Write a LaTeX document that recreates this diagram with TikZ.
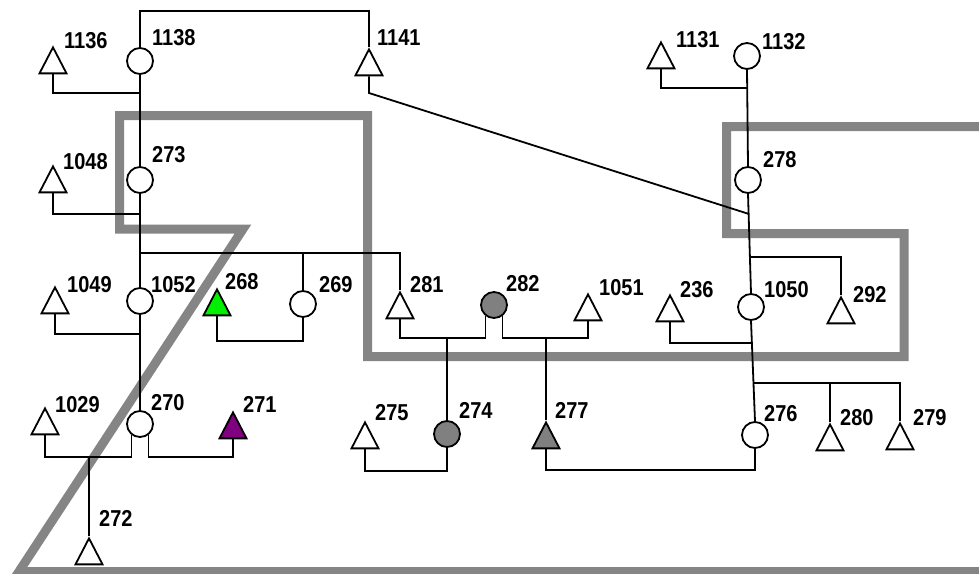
\documentclass[tikz,border=0pt]{standalone}
\usepackage{fontspec}
\setmainfont{Liberation Sans}
\newfontfamily\labfont[FakeStretch=0.87]{Liberation Sans}
\usetikzlibrary{shapes.geometric}
\definecolor{zonegray}{HTML}{858585}
\definecolor{fillgray}{HTML}{808080}
\definecolor{brightgreen}{HTML}{00F000}
\definecolor{deeppurple}{HTML}{800080}
\tikzset{
  wire/.style={draw=black, line width=1.8pt},
  zone/.style={draw=zonegray, line width=9pt, line join=miter},
  circ/.style={circle, draw=black, line width=1.8pt, fill=white, minimum size=26pt, inner sep=0pt},
  tri/.style={isosceles triangle, isosceles triangle stretches, shape border rotate=90,
    draw=black, line width=1.8pt, fill=white, minimum width=27pt, minimum height=26pt,
    inner sep=0pt, anchor=apex},
  lab/.style={anchor=base west, inner sep=0pt, font=\labfont\bfseries\fontsize{23}{26}\selectfont}
}
\begin{document}
\begin{tikzpicture}[x=1pt,y=-1pt]
\useasboundingbox[fill=white] (0,0) rectangle (979,573);
% zone boundary
\draw[zone] (985,126.5) -- (726.5,126.5) -- (726.5,233.5) -- (904,233.5) -- (904,356.5)
  -- (367.5,356.5) -- (367.5,115.5) -- (119.5,115.5) -- (119.5,229) -- (243,229)
  -- (19,571.5) -- (985,571.5);
% circles
\node[circ] (c1138) at (140,61) {};
\node[circ] (c273) at (140,180) {};
\node[circ] (c1052) at (140,301) {};
\node[circ] (c270) at (140,424) {};
\node[circ] (c269) at (303,304) {};
\node[circ, fill=fillgray] (c282) at (494,305) {};
\node[circ, fill=fillgray] (c274) at (447,434) {};
\node[circ] (c1132) at (747,56) {};
\node[circ] (c278) at (748,180) {};
\node[circ] (c1050) at (751,307) {};
\node[circ] (c276) at (755,435) {};
% triangles (placed by apex)
\node[tri] (t1136) at (53,45) {};
\node[tri] (t1141) at (369,47) {};
\node[tri] (t1048) at (53,164) {};
\node[tri] (t1049) at (55,285) {};
\node[tri, fill=brightgreen] (t268) at (217,287) {};
\node[tri] (t281) at (400,290) {};
\node[tri] (t1051) at (588,292) {};
\node[tri] (t236) at (670,293) {};
\node[tri] (t292) at (841,295) {};
\node[tri] (t1029) at (45,406) {};
\node[tri, fill=deeppurple] (t271) at (233,410) {};
\node[tri] (t275) at (365,420) {};
\node[tri, fill=fillgray] (t277) at (546,420) {};
\node[tri] (t280) at (830,422) {};
\node[tri] (t279) at (900,421) {};
\node[tri] (t272) at (89,536) {};
\node[tri] (t1131) at (661,40) {};
% labels
\node[lab] (l1138) at (152,45) {1138};
\node[lab] (l273) at (152,162) {273};
\node[lab] (l1052) at (151,292) {1052};
\node[lab] (l270) at (151,410) {270};
\node[lab] (l269) at (319,292) {269};
\node[lab] (l282) at (506,291) {282};
\node[lab] (l274) at (459,418) {274};
\node[lab] (l1132) at (762,49) {1132};
\node[lab] (l278) at (763,167) {278};
\node[lab] (l1050) at (764,297) {1050};
\node[lab] (l276) at (764,421) {276};
\node[lab] (l1136) at (64,48) {1136};
\node[lab] (l1141) at (377,45) {1141};
\node[lab] (l1048) at (63,169) {1048};
\node[lab] (l1049) at (67,292) {1049};
\node[lab] (l268) at (225,289) {268};
\node[lab] (l281) at (410,292) {281};
\node[lab] (l1051) at (599,295) {1051};
\node[lab] (l236) at (680,297) {236};
\node[lab] (l292) at (853,302) {292};
\node[lab] (l1029) at (55,412) {1029};
\node[lab] (l271) at (243,412) {271};
\node[lab] (l275) at (375,420) {275};
\node[lab] (l277) at (555,418) {277};
\node[lab] (l280) at (840,425) {280};
\node[lab] (l279) at (913,425) {279};
\node[lab] (l272) at (99,526) {272};
\node[lab] (l1131) at (676,47) {1131};
% junction coordinates
\coordinate (k1) at (140,11);
\coordinate (j1136) at (140,93);
\coordinate (k1141) at (369,93);
\coordinate (j278) at (749,214);
\coordinate (j1048) at (140,214);
\coordinate (j253) at (140,253);
\coordinate (j269) at (303,253);
\coordinate (j1049) at (140,334);
\coordinate (j272) at (89,457);
\coordinate (k271) at (233,457);
\coordinate (j274) at (447,338);
\coordinate (j277) at (546,338);
\coordinate (j1131) at (747,88);
\coordinate (j292) at (750,257);
\coordinate (j236) at (752,343);
\coordinate (j383) at (753,383);
\coordinate (j280) at (830,383);
% connectors
\draw[wire] (c1138.north) -- (k1) -| (t1141.apex);
\draw[wire] (t1136.lower side) |- (j1136);
\draw[wire] (c1138.south) -- (c273.north);
\draw[wire] (t1141.lower side) -- (k1141) -- (j278);
\draw[wire] (t1048.lower side) |- (j1048);
\draw[wire] (c273.south) -- (c1052.north);
\draw[wire] (j253) -| (t281.apex);
\draw[wire] (j269) -- (c269.north);
\draw[wire] (t1049.lower side) |- (j1049);
\draw[wire] (c1052.south) -- (c270.north);
\draw[wire] (t268.lower side) -- ++(0,25) -| (c269.south);
\draw[wire] (c270.-128) |- (j272) -| (t1029.lower side);
\draw[wire] (j272) -- (t272.apex);
\draw[wire] (c270.-52) |- (k271) -- (t271.lower side);
\draw[wire] (t281.lower side) |- (j274) -| (c282.-128);
\draw[wire] (j274) -- (c274.north);
\draw[wire] (c282.-52) |- (j277) -| (t1051.lower side);
\draw[wire] (j277) -- (t277.apex);
\draw[wire] (t275.lower side) -- ++(0,22) -| (c274.south);
\draw[wire] (c276.south) -- ++(0,21) -| (t277.lower side);
\draw[wire] (t1131.lower side) |- (j1131);
\draw[wire] (c1132.south) -- (c278.north);
\draw[wire] (c278.south) -- (c1050.north);
\draw[wire] (j292) -| (t292.apex);
\draw[wire] (t236.lower side) |- (j236);
\draw[wire] (c1050.south) -- (c276.north);
\draw[wire] (j383) -| (t279.apex);
\draw[wire] (j280) -- (t280.apex);
\end{tikzpicture}
\end{document}
